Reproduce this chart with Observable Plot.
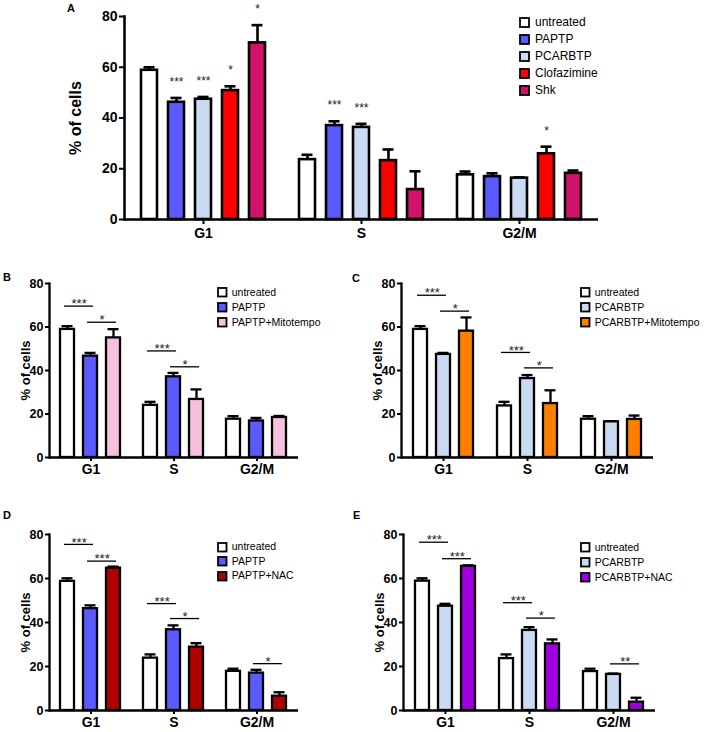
<!DOCTYPE html>
<html><head><meta charset="utf-8">
<script src="https://cdn.jsdelivr.net/npm/d3@7"></script>
<script src="https://cdn.jsdelivr.net/npm/@observablehq/plot@0.6"></script>
<style>
body{margin:0;background:#fff;font-family:Arial,"Liberation Sans",sans-serif}
#fig{position:relative;width:708px;height:732px;overflow:hidden;background:#fff}
.pnl{position:absolute}
.plab{position:absolute;font:bold 11px Arial,"Liberation Sans",sans-serif;color:#000}
.lgd{position:absolute}
.lgd svg{overflow:visible}
.lgd svg rect{stroke:#000;stroke-width:1.8px}
</style></head>
<body><div id="fig"></div>
<script>
const phases = ["G1", "S", "G2/M"];
const palette = {
  "untreated": "#ffffff", "PAPTP": "#5a5aff", "PCARBTP": "#c9daf2",
  "Clofazimine": "#ff0000", "Shk": "#d1126a",
  "PAPTP+Mitotempo": "#f7c0dc", "PCARBTP+Mitotempo": "#ff8000",
  "PAPTP+NAC": "#b00000", "PCARBTP+NAC": "#a000e0"
};

// Panel A
const treatA = ["untreated", "PAPTP", "PCARBTP", "Clofazimine", "Shk"];
const meanA = [[58.8, 46.2, 47.4, 50.8, 69.6], [23.6, 37.0, 36.3, 23.2, 11.8], [17.6, 16.9, 16.3, 25.9, 18.2]];
const errA = [[1.2, 1.7, 0.9, 1.7, 7.0], [1.9, 1.7, 1.4, 4.4, 7.2], [1.3, 1.3, 0.3, 2.8, 1.1]];
const starsA = [["", "***", "***", "*", "*"], ["", "***", "***", "", ""], ["", "", "", "*", ""]];

// Panel B
const treatB = ["untreated", "PAPTP", "PAPTP+Mitotempo"];
const meanB = [[58.9, 46.6, 55.0], [24.0, 37.1, 26.7], [17.6, 16.8, 18.4]];
const errB = [[1.5, 1.5, 4.0], [1.6, 1.8, 4.6], [1.4, 1.4, 0.7]];
const bracketsB = [
  {phase: "G1", from: "untreated", to: "PAPTP", y: 69.6, label: "***"},
  {phase: "G1", from: "PAPTP", to: "PAPTP+Mitotempo", y: 62.2, label: "*"},
  {phase: "S", from: "untreated", to: "PAPTP", y: 49.0, label: "***"},
  {phase: "S", from: "PAPTP", to: "PAPTP+Mitotempo", y: 41.7, label: "*"}
];

// Panel C
const treatC = ["untreated", "PCARBTP", "PCARBTP+Mitotempo"];
const meanC = [[58.9, 47.4, 58.1], [23.7, 36.3, 24.8], [17.6, 16.4, 17.5]];
const errC = [[1.5, 0.7, 6.3], [1.9, 1.6, 6.1], [1.4, 0.3, 1.8]];
const bracketsC = [
  {phase: "G1", from: "untreated", to: "PCARBTP", y: 74.6, label: "***"},
  {phase: "G1", from: "PCARBTP", to: "PCARBTP+Mitotempo", y: 67.3, label: "*"},
  {phase: "S", from: "untreated", to: "PCARBTP", y: 48.3, label: "***"},
  {phase: "S", from: "PCARBTP", to: "PCARBTP+Mitotempo", y: 41.2, label: "*"}
];

// Panel D
const treatD = ["untreated", "PAPTP", "PAPTP+NAC"];
const meanD = [[58.7, 46.3, 64.7], [23.8, 36.7, 28.8], [17.8, 17.0, 6.5]];
const errD = [[1.4, 1.5, 0.7], [1.7, 2.0, 1.8], [1.2, 1.5, 1.8]];
const bracketsD = [
  {phase: "G1", from: "untreated", to: "PAPTP", y: 75.5, label: "***"},
  {phase: "G1", from: "PAPTP", to: "PAPTP+NAC", y: 67.9, label: "***"},
  {phase: "S", from: "untreated", to: "PAPTP", y: 48.6, label: "***"},
  {phase: "S", from: "PAPTP", to: "PAPTP+NAC", y: 41.8, label: "*"},
  {phase: "G2/M", from: "PAPTP", to: "PAPTP+NAC", y: 21.3, label: "*"}
];

// Panel E
const treatE = ["untreated", "PCARBTP", "PCARBTP+NAC"];
const meanE = [[58.8, 47.4, 65.5], [23.6, 36.4, 30.3], [17.7, 16.4, 3.8]];
const errE = [[1.3, 1.1, 0.5], [1.9, 1.5, 2.0], [1.3, 0.4, 2.0]];
const bracketsE = [
  {phase: "G1", from: "untreated", to: "PCARBTP", y: 76.5, label: "***"},
  {phase: "G1", from: "PCARBTP", to: "PCARBTP+NAC", y: 69.0, label: "***"},
  {phase: "S", from: "untreated", to: "PCARBTP", y: 49.0, label: "***"},
  {phase: "S", from: "PCARBTP", to: "PCARBTP+NAC", y: 42.0, label: "*"},
  {phase: "G2/M", from: "PCARBTP", to: "PCARBTP+NAC", y: 21.2, label: "**"}
];

const yTicks = [0, 20, 40, 60, 80];
const FONT = "Arial, 'Liberation Sans', sans-serif";
const fig = document.getElementById("fig");

function panel(o) {
  const rows = [];
  phases.forEach((p, i) => o.treat.forEach((t, j) => rows.push({
    phase: p, treatment: t, value: o.mean[i][j], err: o.err[i][j], star: o.stars ? o.stars[i][j] : ""
  })));
  const n = o.treat.length;
  const facetW = (o.width - o.ml - o.mr) / phases.length;
  const step = facetW / (n - o.pi + 2 * o.po);
  const marks = [
    Plot.ruleX(rows, {fx: "phase", x: "treatment", y1: "value", y2: d => d.value + d.err, stroke: "#000", strokeWidth: o.sw}),
    Plot.tickY(rows, {fx: "phase", x: "treatment", y: d => d.value + d.err, stroke: "#000", strokeWidth: o.sw, insetLeft: o.cap, insetRight: o.cap}),
    Plot.barY(rows, {fx: "phase", x: "treatment", y: "value", fill: "treatment", stroke: "#000", strokeWidth: o.sw}),
    Plot.ruleY([0], {stroke: "#000", strokeWidth: o.sw}),
    Plot.frame({anchor: "left", facetAnchor: "left", stroke: "#000", strokeWidth: o.sw}),
    Plot.axisY({ticks: yTicks, tickSize: o.tick, tickPadding: 2, strokeWidth: 2, fontSize: o.fs, fontWeight: "bold", fill: "#000", label: null}),
    Plot.axisY({ticks: [], tickSize: 0, label: "% of cells", labelAnchor: "center", labelArrow: "none", labelOffset: o.lo, fontSize: o.lfs, fontWeight: "bold", fill: "#000"}),
    Plot.axisFx({anchor: "bottom", tickSize: o.tick, tickPadding: o.ftp, strokeWidth: 2, fontSize: o.ffs, fontWeight: "bold", fill: "#000", label: null})
  ];
  if (o.stars) {
    marks.push(Plot.text(rows.filter(d => d.star), {fx: "phase", x: "treatment", y: d => d.value + d.err, text: "star", dy: -16, fontSize: o.sfs, fill: "#222"}));
  }
  if (o.brackets) {
    marks.push(Plot.ruleY(o.brackets, {fx: "phase", x1: "from", x2: "to", y: "y", stroke: "#000", strokeWidth: 1.3, insetLeft: 4, insetRight: 4}));
    marks.push(Plot.text(o.brackets, {fx: "phase", x: "from", y: "y", text: "label", dx: step / 2, dy: -2, fontSize: o.sfs, fill: "#222"}));
  }
  const chart = Plot.plot({
    width: o.width, height: o.height,
    marginLeft: o.ml, marginRight: o.mr, marginTop: o.mt, marginBottom: o.mb,
    style: {fontFamily: FONT, background: "transparent", overflow: "visible"},
    fx: {domain: phases, padding: 0},
    x: {domain: o.treat, paddingInner: o.pi, paddingOuter: o.po, axis: null},
    y: {domain: [0, 80], axis: null},
    color: {domain: o.treat, range: o.treat.map(t => palette[t])},
    marks
  });
  const div = document.createElement("div");
  div.className = "pnl";
  div.style.left = o.left + "px";
  div.style.top = o.top + "px";
  div.appendChild(chart);
  fig.appendChild(div);
}

function legend(treat, o) {
  const lg = Plot.legend({
    legend: "swatches",
    color: {domain: treat, range: treat.map(t => palette[t])},
    columns: 1, swatchSize: o.ss,
    style: {fontSize: o.fs + "px", fontFamily: FONT, lineHeight: o.lh + "px", color: "#000"}
  });
  const div = document.createElement("div");
  div.className = "lgd";
  div.style.left = o.left + "px";
  div.style.top = o.top + "px";
  div.style.width = o.w + "px";
  div.appendChild(lg);
  fig.appendChild(div);
}

function plab(t, x, y) {
  const d = document.createElement("div");
  d.className = "plab";
  d.textContent = t;
  d.style.left = x + "px";
  d.style.top = y + "px";
  fig.appendChild(d);
}

const big = {sw: 2.6, cap: 2.5, tick: 5, fs: 14, lfs: 16, ffs: 14, ftp: 4, sfs: 12, pi: 0.41, po: 0.53};
const small = {sw: 2.3, cap: 1.5, tick: 4, fs: 12.5, lfs: 13, ffs: 14, ftp: 3, sfs: 13, pi: 0.39, po: 0.49};

panel({...big, treat: treatA, mean: meanA, err: errA, stars: starsA,
  left: 0, top: 0, width: 600, height: 250, ml: 123, mr: 2, mt: 16, mb: 31, lo: 55});
panel({...small, treat: treatB, mean: meanB, err: errB, brackets: bracketsB,
  left: 0, top: 263, width: 300, height: 219, ml: 48, mr: 1, mt: 20, mb: 25, lo: 29});
panel({...small, treat: treatC, mean: meanC, err: errC, brackets: bracketsC,
  left: 352, top: 263, width: 304, height: 219, ml: 48, mr: 2, mt: 20, mb: 25, lo: 29});
panel({...small, treat: treatD, mean: meanD, err: errD, brackets: bracketsD,
  left: 0, top: 514, width: 300, height: 218, ml: 48, mr: 2, mt: 20, mb: 22, lo: 29});
panel({...small, treat: treatE, mean: meanE, err: errE, brackets: bracketsE,
  left: 354, top: 514, width: 304, height: 218, ml: 48, mr: 2, mt: 20, mb: 22, lo: 29});

legend(treatA, {left: 520, top: 14, w: 150, ss: 9, fs: 12, lh: 16});
legend(treatB, {left: 218, top: 285, w: 130, ss: 8.5, fs: 10.5, lh: 14});
legend(treatC, {left: 581, top: 285, w: 130, ss: 8.5, fs: 10.5, lh: 14});
legend(treatD, {left: 218, top: 540, w: 130, ss: 8.5, fs: 10.5, lh: 13.5});
legend(treatE, {left: 581, top: 540, w: 130, ss: 8.5, fs: 10.5, lh: 14});

plab("A", 67, 2);
plab("B", 3, 271);
plab("C", 352, 272);
plab("D", 3, 509);
plab("E", 353, 509);
</script>
</body></html>
